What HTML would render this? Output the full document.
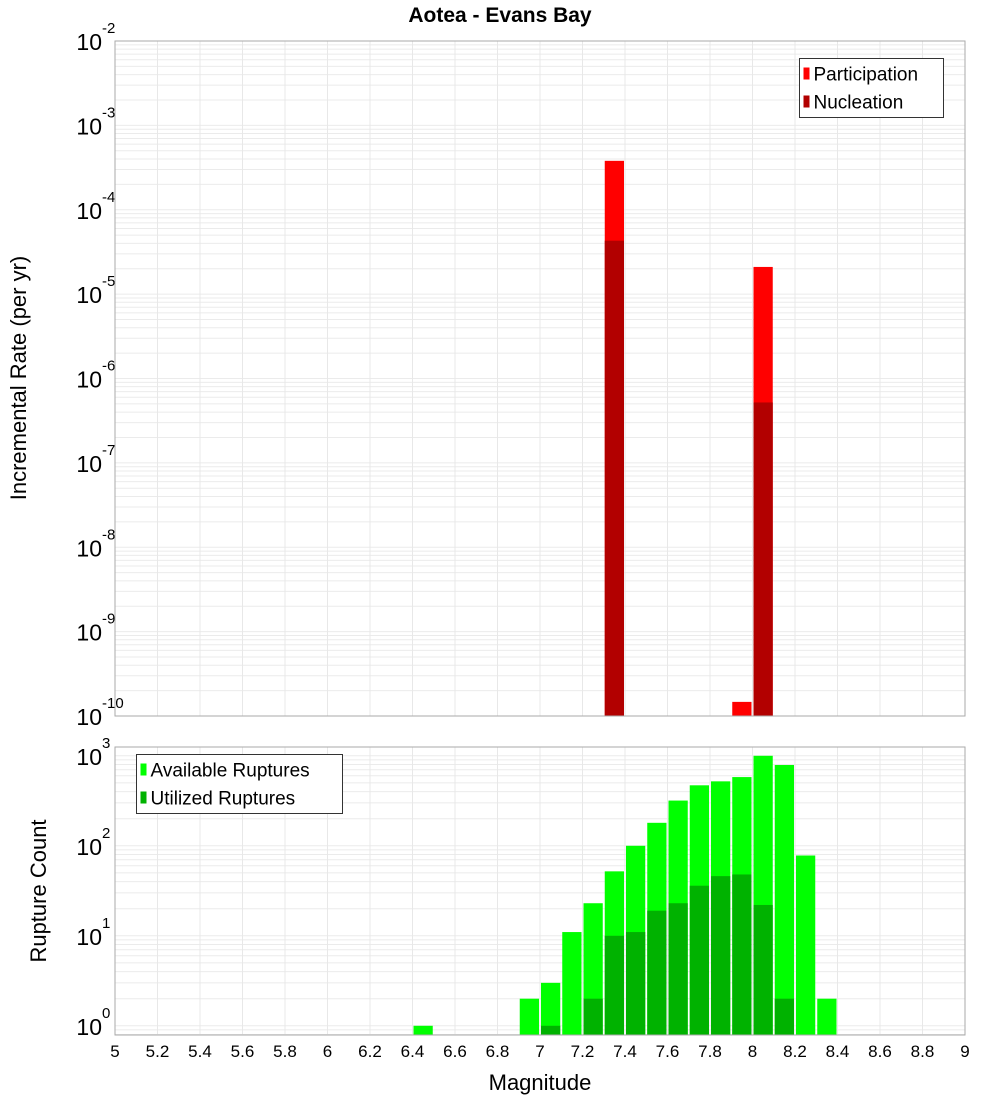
<!DOCTYPE html>
<html><head><meta charset="utf-8"><style>
html,body{margin:0;padding:0;background:#fff;}
svg text{font-family:"Liberation Sans","DejaVu Sans",sans-serif;}
</style></head><body>
<svg id="c" width="1000" height="1100" xmlns="http://www.w3.org/2000/svg">
<text x="500" y="22" text-anchor="middle" font-size="21" font-weight="bold">Aotea - Evans Bay</text>
<text transform="translate(26,378) rotate(-90)" text-anchor="middle" font-size="22">Incremental Rate (per yr)</text>
<text transform="translate(46,891) rotate(-90)" text-anchor="middle" font-size="22">Rupture Count</text>
<text x="540" y="1090" text-anchor="middle" font-size="22">Magnitude</text>
</svg>
<script>
const xTicks=[5,5.2,5.4,5.6,5.8,6,6.2,6.4,6.6,6.8,7,7.2,7.4,7.6,7.8,8,8.2,8.4,8.6,8.8,9];
const rateMags=[7.35,7.95,8.05];
const participation=[3.8e-4,1.47e-10,2.1e-5];
const nucleation=[4.3e-5,0,5.2e-7];
const countMags=[6.45,6.95,7.05,7.15,7.25,7.35,7.45,7.55,7.65,7.75,7.85,7.95,8.05,8.15,8.25,8.35];
const available=[1,2,3,11,23,52,100,180,318,470,520,580,1000,790,78,2];
const utilized=[0,0,1,0,2,10,11,19,23,36,46,48,22,2,0,0];
const topDecades=[-10,-9,-8,-7,-6,-5,-4,-3,-2];
const botDecades=[0,1,2,3];

const svg=document.getElementById('c');
const NS='http://www.w3.org/2000/svg';
const X0=115,X1=965;
const xs=m=>X0+(m-5)/4*(X1-X0);
const TOP={y0:41,y1:716,lmin:-10,lmax:-2};
const BOT={y0:747,y1:1035,lmin:Math.log10(0.79),lmax:Math.log10(0.79)+288/90};
const ys=(p,v)=>p.y1-(Math.log10(v)-p.lmin)/(p.lmax-p.lmin)*(p.y1-p.y0);
function el(t,a,parent){const e=document.createElementNS(NS,t);for(const k in a)e.setAttribute(k,a[k]);(parent||svg).appendChild(e);return e;}

function panel(p,decades,name){
  const g=el('g',{});
  
  
  el('rect',{x:X0,y:p.y0,width:X1-X0,height:p.y1-p.y0,fill:'#fff'},g);
  for(let d=Math.floor(p.lmin);d<=Math.ceil(p.lmax);d++){
    for(let k=1;k<10;k++){
      const v=k*Math.pow(10,d);const y=ys(p,v);
      if(y<p.y0||y>p.y1)continue;
      const l=el('line',{x1:X0,x2:X1,y1:y,y2:y,stroke:'#ebebeb','stroke-width':1},g);
      
      
    }
  }
  xTicks.forEach(t=>{const x=xs(t);
    const l=el('line',{x1:x,x2:x,y1:p.y0,y2:p.y1,stroke:'#e8e8e8','stroke-width':1},g);
    
    });
  decades.forEach(d=>{const y=ys(p,Math.pow(10,d));
    const t=el('text',{x:102,y:y+9,'text-anchor':'end','font-size':23});
    
    
    t.textContent='10';
    const s=el('text',{x:102,y:y-8,'font-size':15});
    
    
    s.textContent=String(d);});
  return g;
}
const gt=panel(TOP,topDecades,'top');
const gb=panel(BOT,botDecades,'bottom');

function bar(g,p,m,v,color,name){
  if(!(v>0))return;
  const x=xs(m-0.05)+1,w=xs(m+0.05)-xs(m-0.05)-2;
  const y=Math.max(ys(p,v),p.y0);
  const r=el('rect',{x:x,y:y,width:w,height:p.y1-y,fill:color},g);
  
  
}
rateMags.forEach((m,i)=>{bar(gt,TOP,m,participation[i],'#ff0000','participation-bar');});
rateMags.forEach((m,i)=>{bar(gt,TOP,m,nucleation[i],'#b20000','nucleation-bar');});
countMags.forEach((m,i)=>{bar(gb,BOT,m,available[i],'#00ff00','available-bar');});
countMags.forEach((m,i)=>{bar(gb,BOT,m,utilized[i],'#00b200','utilized-bar');});

[TOP,BOT].forEach((p,i)=>{const r=el('rect',{x:X0,y:p.y0,width:X1-X0,height:p.y1-p.y0,fill:'none',stroke:'#aaa','stroke-width':1});
  
  });

xTicks.forEach(t=>{const tx=el('text',{x:xs(t),y:1057,'text-anchor':'middle','font-size':17});
  
  
  tx.textContent=String(t);});

function legend(x,y,w,h,items,name){
  const g=el('g',{});
  
  
  el('rect',{x:x,y:y,width:w,height:h,fill:'#fff',stroke:'#333','stroke-width':1},g);
  items.forEach((it,i)=>{const cy=y+15+i*28;
    el('rect',{x:x+4,y:cy-6,width:6,height:12,fill:it[1]},g);
    const t=el('text',{x:x+14,y:cy+7,'font-size':19},g);
    
    
    t.textContent=it[0];});
}
legend(799.5,58.5,144,59,[['Participation','#ff0000'],['Nucleation','#b20000']],'top-legend');
legend(136.5,754.5,206,59,[['Available Ruptures','#00ff00'],['Utilized Ruptures','#00b200']],'bottom-legend');
</script>
</body></html>
